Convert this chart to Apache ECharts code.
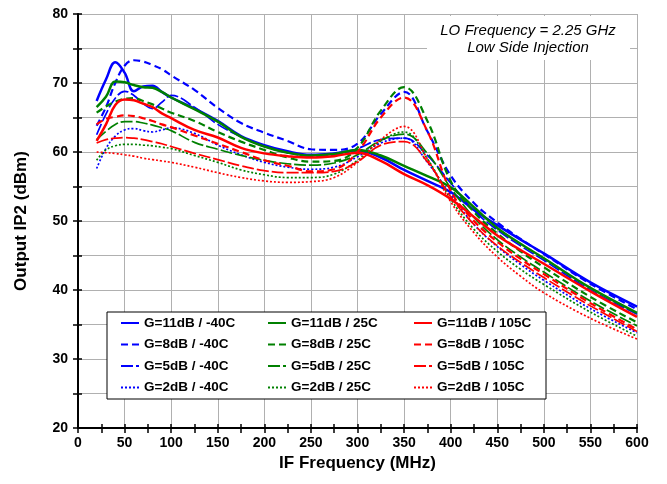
<!DOCTYPE html>
<html><head><meta charset="utf-8">
<script src="https://cdn.jsdelivr.net/npm/echarts@6/dist/echarts.min.js"></script>
<style>html,body{margin:0;padding:0;background:#fff}#c{width:667px;height:484px}</style>
</head><body><div id="c"></div>
<script>
const freq = [20,30,40,50,60,70,80,90,100,125,150,175,200,225,250,275,300,325,350,375,400,425,450,475,500,550,600];
const xTicks = [0,50,100,150,200,250,300,350,400,450,500,550,600];
const yTicks = [20,30,40,50,60,70,80];

const blue11 = [67.4,70.5,73.0,71.5,68.8,69.5,69.6,68.7,67.9,66.3,64.5,62.3,61.0,60.1,59.6,59.8,60.2,59.2,57.4,55.8,54.2,51.6,49.4,47.3,45.3,41.1,37.6];
const blue8  = [63.8,66.5,70.0,72.5,73.3,73.1,72.6,72.0,71.1,69.0,66.4,64.2,62.8,61.6,60.4,60.3,61.2,65.5,68.7,63.0,56.6,52.6,49.8,47.4,45.2,40.9,37.2];
const blue5  = [62.5,65.5,67.8,68.8,68.2,67.0,66.3,67.2,68.2,66.5,64.0,62.2,60.8,59.9,59.4,59.5,60.5,61.8,62.0,59.5,55.5,51.5,48.7,46.4,44.3,40.0,36.5];
const blue2  = [57.6,60.5,62.3,63.2,63.4,63.1,62.9,63.2,63.5,62.7,61.0,59.6,58.5,57.8,57.5,57.8,59.3,61.3,62.0,58.5,53.8,49.5,46.3,43.7,41.4,37.3,33.8];
const green11 = [66.5,68.0,70.2,70.1,69.7,69.4,69.3,68.7,67.9,66.2,64.4,62.2,60.8,59.9,59.5,59.7,60.3,59.5,58.0,56.5,54.9,52.0,49.0,46.7,44.6,40.3,36.7];
const green8  = [65.7,66.6,67.3,67.7,67.8,67.4,66.9,66.3,65.7,64.5,62.9,61.5,60.3,59.2,58.6,58.7,60.6,66.0,69.4,64.5,55.8,51.3,48.2,45.6,43.3,39.0,35.3];
const green5  = [61.8,63.0,64.0,64.4,64.4,64.2,63.9,63.5,63.1,61.4,60.4,59.5,58.8,58.3,58.1,58.4,59.6,61.7,62.6,59.8,54.8,50.5,47.3,44.8,42.6,38.4,34.8];
const green2  = [58.8,60.3,60.9,61.1,61.1,61.0,60.9,60.7,60.5,59.5,58.5,57.4,56.7,56.3,56.3,56.8,58.8,61.6,62.9,59.0,53.2,48.8,45.6,43.0,40.8,36.8,33.3];
const red11 = [61.6,64.0,66.8,67.6,67.5,67.0,66.5,65.6,64.9,63.2,62.1,60.6,59.8,59.4,59.2,59.4,59.9,58.7,56.8,55.2,53.2,50.6,47.9,45.8,43.8,39.8,36.1];
const red8  = [64.0,64.8,65.1,65.3,65.2,64.9,64.5,64.0,63.6,62.4,61.2,60.0,58.8,58.0,57.2,57.5,60.0,65.0,67.9,63.0,54.4,50.0,47.0,44.5,42.3,38.1,34.3];
const red5  = [61.3,61.8,62.0,62.1,62.0,61.8,61.5,61.2,60.8,59.8,58.9,58.0,57.3,57.0,57.0,57.2,58.6,61.0,61.5,58.6,53.5,49.5,46.4,44.0,41.8,37.7,34.0];
const red2  = [60.0,59.9,59.8,59.6,59.4,59.1,58.9,58.7,58.5,57.8,57.0,56.3,55.8,55.6,55.7,56.3,58.5,61.8,63.7,59.0,52.8,48.3,44.8,42.0,39.6,35.9,32.9];

const FONT = '"Liberation Sans", Arial, sans-serif';
const colors = {b:'#0000FF', g:'#008000', r:'#FF0000'};
const styles = {
  s11: {type:'solid', width:2.5},
  s8:  {type:[7,4], width:2.2},
  s5:  {type:[12,3], width:1.7},
  s2:  {type:[2,2], width:1.7}
};
const defs = [
  ['G=11dB / -40C', blue11, 'b', 's11'], ['G=8dB / -40C', blue8, 'b', 's8'], ['G=5dB / -40C', blue5, 'b', 's5'], ['G=2dB / -40C', blue2, 'b', 's2'],
  ['G=11dB / 25C', green11, 'g', 's11'], ['G=8dB / 25C', green8, 'g', 's8'], ['G=5dB / 25C', green5, 'g', 's5'], ['G=2dB / 25C', green2, 'g', 's2'],
  ['G=11dB / 105C', red11, 'r', 's11'], ['G=8dB / 105C', red8, 'r', 's8'], ['G=5dB / 105C', red5, 'r', 's5'], ['G=2dB / 105C', red2, 'r', 's2']
];
const series = defs.map(d => ({
  name: d[0], type: 'line', xAxisIndex: 0, yAxisIndex: 0,
  data: freq.map((f, i) => [f, d[1][i]]),
  smooth: 0.4, symbol: 'none', symbolSize: 0, showSymbol: false,
  color: colors[d[2]],
  lineStyle: Object.assign({color: colors[d[2]]}, styles[d[3]]),
  z: 3
}));

function legendCol(left, names) {
  return {
    orient: 'vertical', left: left, top: 316, padding: 0,
    itemWidth: 18, itemHeight: 14, itemGap: 7.5, selectedMode: false,
    itemStyle: {opacity: 0},
    data: names,
    textStyle: {fontFamily: FONT, fontWeight: 'bold', fontSize: 13.5, color: '#000', lineHeight: 14}
  };
}

const gridColor = '#b0b0b0';
const axisCommonX = {
  type: 'value', min: xTicks[0], max: xTicks[xTicks.length-1], interval: 50
};
const axisCommonY = {
  type: 'value', min: yTicks[0], max: yTicks[yTicks.length-1], interval: 5
};

const option = {
  animation: false,
  backgroundColor: '#fff',
  grid: {left: 78, right: 30, top: 14, bottom: 56, containLabel: false},
  xAxis: [
    Object.assign({}, axisCommonX, {
      position: 'bottom',
      name: 'IF Frequency (MHz)', nameLocation: 'middle', nameGap: 25,
      nameTextStyle: {fontFamily: FONT, fontWeight: 'bold', fontSize: 17, color: '#000'},
      axisLine: {show: true, lineStyle: {color: '#000', width: 2}},
      axisTick: {show: true, inside: false, length: 5, lineStyle: {color: '#000', width: 1.5}},
      minorTick: {show: true, splitNumber: 2, length: 5, lineStyle: {color: '#000', width: 1.5}},
      axisLabel: {fontFamily: FONT, fontWeight: 'bold', fontSize: 14, color: '#000', margin: 8},
      splitLine: {show: true, lineStyle: {color: gridColor, width: 1}}
    }),
    Object.assign({}, axisCommonX, {
      position: 'bottom', gridIndex: 0,
      axisLine: {show: false},
      axisTick: {show: true, inside: true, length: 4, lineStyle: {color: '#000', width: 1.5}},
      minorTick: {show: true, splitNumber: 2, length: 4, lineStyle: {color: '#000', width: 1.5}},
      axisLabel: {show: false}, splitLine: {show: false}
    })
  ],
  yAxis: [
    Object.assign({}, axisCommonY, {
      position: 'left',
      name: 'Output IP2 (dBm)', nameLocation: 'middle', nameGap: 48,
      nameTextStyle: {fontFamily: FONT, fontWeight: 'bold', fontSize: 17, color: '#000'},
      axisLine: {show: true, lineStyle: {color: '#000', width: 2}},
      axisTick: {show: true, inside: false, length: 5, lineStyle: {color: '#000', width: 1.5}},
      axisLabel: {fontFamily: FONT, fontWeight: 'bold', fontSize: 14, color: '#000', margin: 10,
        formatter: v => (yTicks.indexOf(v) >= 0 ? String(v) : '')},
      splitLine: {show: true, lineStyle: {color: gridColor, width: 1}}
    }),
    Object.assign({}, axisCommonY, {
      position: 'left', gridIndex: 0, offset: 0,
      axisLine: {show: false},
      axisTick: {show: true, inside: true, length: 4, lineStyle: {color: '#000', width: 1.5}},
      axisLabel: {show: false}, splitLine: {show: false}
    })
  ],
  legend: [
    legendCol(120, defs.slice(0,4).map(d => d[0])),
    legendCol(267, defs.slice(4,8).map(d => d[0])),
    legendCol(413, defs.slice(8,12).map(d => d[0]))
  ],
  graphic: [
    {type: 'rect', z: 1, shape: {x: 107, y: 312, width: 439, height: 87},
     style: {fill: '#fff', stroke: '#000', lineWidth: 1}},
    {type: 'rect', z: 1, shape: {x: 427, y: 16, width: 203, height: 44},
     style: {fill: '#fff', stroke: null}},
    {type: 'text', z: 5, x: 528, y: 31,
     style: {text: 'LO Frequency = 2.25 GHz', fill: '#000', font: 'italic 15px ' + FONT, textAlign: 'center', textVerticalAlign: 'middle'}},
    {type: 'text', z: 5, x: 528, y: 48,
     style: {text: 'Low Side Injection', fill: '#000', font: 'italic 15px ' + FONT, textAlign: 'center', textVerticalAlign: 'middle'}}
  ],
  series: series
};
const chart = echarts.init(document.getElementById('c'), null, {renderer: 'canvas'});
chart.setOption(option);
</script>
</body></html>
